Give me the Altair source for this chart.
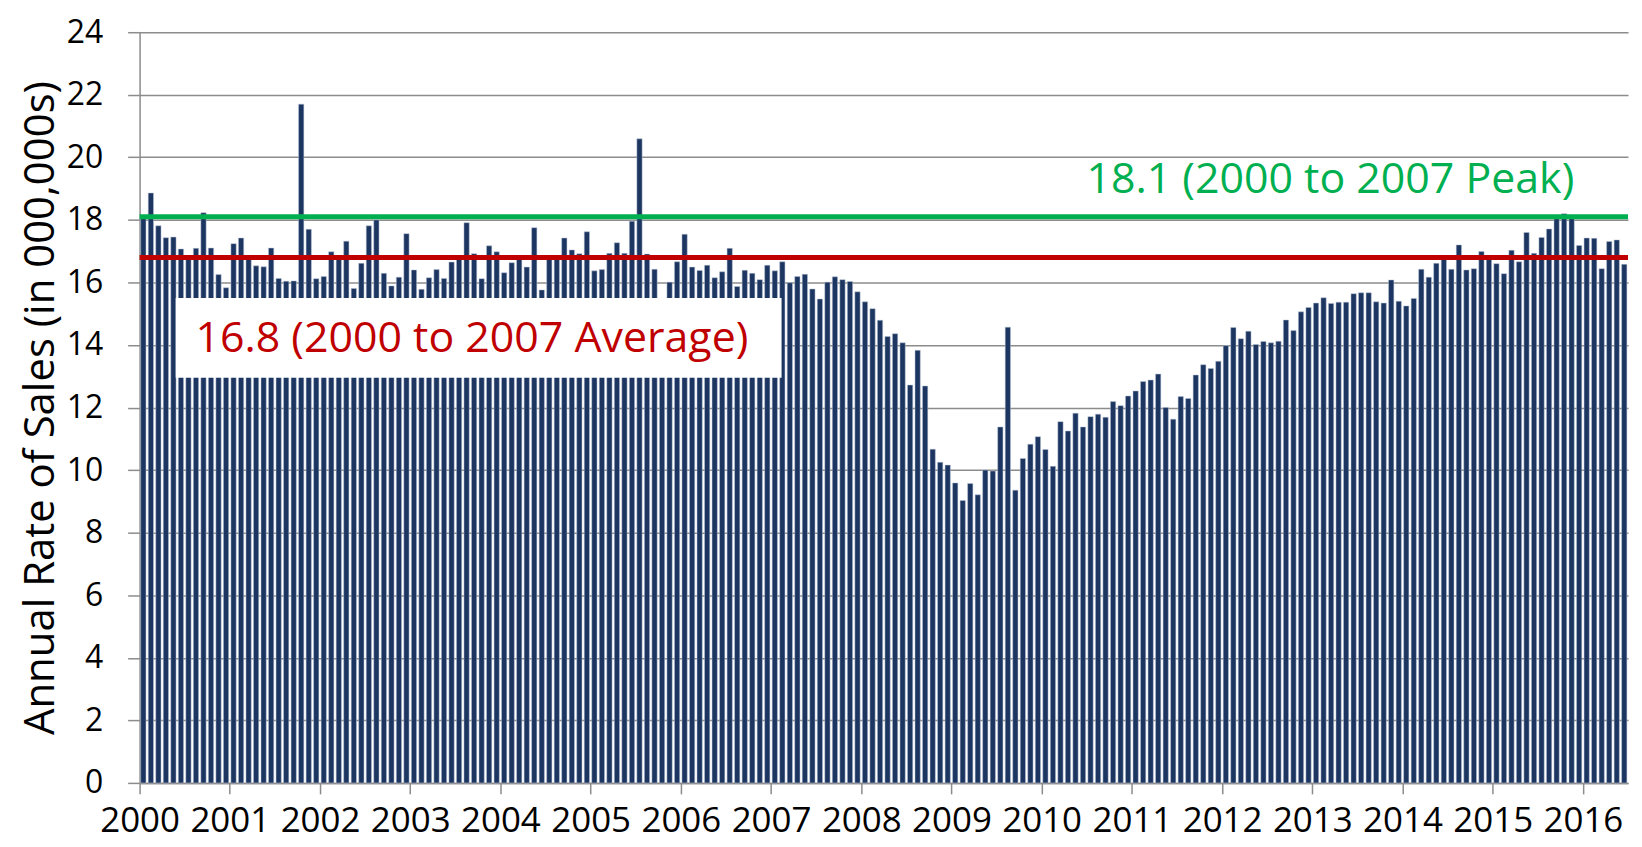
import altair as alt
import pandas as pd

# Monthly annualized light-vehicle sales rate (millions), Jan 2000 - Jun 2016
sales_2000 = [18.05, 18.86, 17.81, 17.43, 17.45, 17.07, 16.80, 17.09, 18.23, 17.10, 16.25, 15.83]
sales_2001 = [17.24, 17.42, 16.75, 16.53, 16.50, 17.10, 16.13, 16.04, 16.05, 21.70, 17.70, 16.12]
sales_2002 = [16.19, 16.98, 16.80, 17.32, 15.81, 16.61, 17.81, 18.00, 16.29, 15.89, 16.17, 17.56]
sales_2003 = [16.40, 15.78, 16.15, 16.41, 16.13, 16.65, 16.75, 17.91, 16.92, 16.12, 17.17, 16.98]
sales_2004 = [16.31, 16.63, 16.75, 16.49, 17.75, 15.76, 16.85, 16.75, 17.42, 17.04, 16.92, 17.62]
sales_2005 = [16.37, 16.41, 16.93, 17.27, 16.93, 17.96, 20.59, 16.91, 16.42, 14.80, 16.01, 16.66]
sales_2006 = [17.54, 16.49, 16.38, 16.55, 16.15, 16.34, 17.09, 15.87, 16.39, 16.29, 16.09, 16.55]
sales_2007 = [16.37, 16.66, 15.99, 16.19, 16.26, 15.79, 15.47, 16.01, 16.18, 16.09, 16.03, 15.70]
sales_2008 = [15.38, 15.16, 14.79, 14.27, 14.36, 14.07, 12.72, 13.83, 12.69, 10.67, 10.25, 10.16]
sales_2009 = [9.59, 9.03, 9.57, 9.21, 10.00, 9.97, 11.38, 14.57, 9.36, 10.37, 10.83, 11.07]
sales_2010 = [10.66, 10.12, 11.55, 11.25, 11.82, 11.38, 11.71, 11.79, 11.69, 12.19, 12.06, 12.37]
sales_2011 = [12.53, 12.83, 12.88, 13.07, 12.00, 11.63, 12.35, 12.29, 13.04, 13.37, 13.25, 13.48]
sales_2012 = [13.98, 14.56, 14.20, 14.44, 14.02, 14.11, 14.07, 14.12, 14.80, 14.46, 15.06, 15.20]
sales_2013 = [15.34, 15.51, 15.33, 15.37, 15.37, 15.64, 15.67, 15.67, 15.38, 15.34, 16.08, 15.40]
sales_2014 = [15.25, 15.49, 16.42, 16.17, 16.61, 16.75, 16.42, 17.20, 16.40, 16.44, 16.99, 16.80]
sales_2015 = [16.60, 16.28, 17.03, 16.66, 17.60, 16.93, 17.44, 17.71, 18.10, 18.20, 18.10, 17.18]
sales_2016 = [17.42, 17.41, 16.44, 17.31, 17.36, 16.58]

start_year = 2000
year_ticks = list(range(2000, 2017))
y_ticks = list(range(0, 25, 2))

avg_value = 16.8
peak_value = 18.1
avg_label = "16.8 (2000 to 2007 Average)"
peak_label = "18.1 (2000 to 2007 Peak)"
y_title = "Annual Rate of Sales (in 000,000s)"

sales = (sales_2000 + sales_2001 + sales_2002 + sales_2003 + sales_2004 + sales_2005
         + sales_2006 + sales_2007 + sales_2008 + sales_2009 + sales_2010 + sales_2011
         + sales_2012 + sales_2013 + sales_2014 + sales_2015 + sales_2016)
n_months = len(sales)
df = pd.DataFrame({"m": list(range(n_months)), "sales": sales})

FONT = "Open Sans"
GRID = "#8c8c8c"

xscale = alt.Scale(domain=[0, n_months], nice=False, zero=False)
yscale = alt.Scale(domain=[0, 24], nice=False)

x_axis = alt.Axis(
    values=[(y - start_year) * 12 for y in year_ticks],
    labelExpr=f"'' + ({start_year} + datum.value / 12)",
    grid=False, domainColor=GRID, domainWidth=1.5,
    tickColor=GRID, tickSize=11, tickWidth=1.5,
    labelFont=FONT, labelFontSize=35, labelColor="black", labelPadding=10,
    labelFlush=False, labelOverlap=False,
)
y_axis = alt.Axis(
    values=y_ticks, titleFont=FONT, titleFontSize=42,
    titleFontWeight="normal", titleColor="black", titlePadding=4,
    grid=True, gridColor=GRID, gridWidth=1.5,
    domainColor=GRID, domainWidth=1.5, tickColor=GRID, tickSize=12, tickWidth=1.5,
    labelFont=FONT, labelFontSize=32, labelColor="black", labelPadding=25,
)

bars = alt.Chart(df).transform_calculate(
    x0="datum.m + 0.15", x1="datum.m + 0.85"
).mark_bar(color="#1c3661", stroke="#b9c3d4", strokeWidth=0.5).encode(
    x=alt.X("x0:Q", scale=xscale, axis=x_axis, title=None),
    x2="x1:Q",
    y=alt.Y("sales:Q", scale=yscale, axis=y_axis, title=y_title),
    y2=alt.Y2(datum=0),
)

box_df = pd.DataFrame({"bx0": [4.8], "bx1": [85.4], "by0": [12.95], "by1": [15.5]})
box = alt.Chart(box_df).mark_rect(fill="white").encode(
    x=alt.X("bx0:Q", scale=xscale, title=None),
    x2="bx1:Q",
    y=alt.Y("by0:Q", scale=yscale, title=y_title),
    y2="by1:Q",
)

rule_df = pd.DataFrame({"v": [peak_value, avg_value], "kind": ["peak", "avg"]})
rules = alt.Chart(rule_df).mark_rule(strokeWidth=5).encode(
    y=alt.Y("v:Q", scale=yscale, title=y_title),
    color=alt.Color("kind:N", scale=alt.Scale(domain=["peak", "avg"], range=["#00b050", "#c00000"]), legend=None),
)

peak_df = pd.DataFrame({"tx": [158.4], "ty": [18.86], "t": [peak_label]})
peak_text = alt.Chart(peak_df).mark_text(
    align="center", baseline="alphabetic", font=FONT, fontSize=43, color="#00b050"
).encode(
    x=alt.X("tx:Q", scale=xscale, title=None),
    y=alt.Y("ty:Q", scale=yscale, title=y_title),
    text="t:N",
)

avg_df = pd.DataFrame({"tx": [44.2], "ty": [13.78], "t": [avg_label]})
avg_text = alt.Chart(avg_df).mark_text(
    align="center", baseline="alphabetic", font=FONT, fontSize=43, color="#c00000"
).encode(
    x=alt.X("tx:Q", scale=xscale, title=None),
    y=alt.Y("ty:Q", scale=yscale, title=y_title),
    text="t:N",
)

chart = alt.layer(bars, box, rules, peak_text, avg_text).properties(
    width=1493, height=753,
    autosize=alt.AutoSizeParams(type="none"),
    padding={"left": 132, "top": 23, "right": 6, "bottom": 62},
    background="white",
).configure_view(stroke=None)

chart.save("out.html", embed_options={"renderer": "svg", "actions": False})
